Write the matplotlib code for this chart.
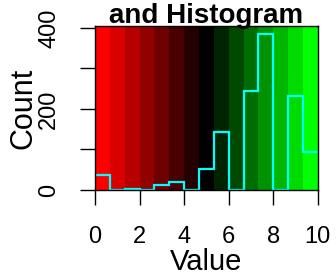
import numpy as np
import matplotlib.pyplot as plt
from matplotlib.colors import LinearSegmentedColormap

plt.rcParams['font.family'] = ['Liberation Sans', 'DejaVu Sans']

# histogram counts over 15 equal bins from 0 to 10
counts = [37, 0, 3, 0, 12, 20, 0, 53, 143, 0, 245, 384, 0, 231, 93]
x_min, x_max = 0, 10
x_ticks = [0, 2, 4, 6, 8, 10]
y_ticks = [0, 100, 200, 300, 400]
y_labels = ['0', '', '200', '', '400']

edges = np.linspace(x_min, x_max, len(counts) + 1)
cmap = LinearSegmentedColormap.from_list('redgreen', ['#ff0000', '#000000', '#00ff00'], N=len(counts))

fig = plt.figure(figsize=(3.36, 2.75), dpi=100)
ax = fig.add_axes([0.283, 0.309, 0.663, 0.596])

top = max(counts) / 0.95
ax.pcolormesh(edges, [0, top], np.arange(len(counts))[None, :], cmap=cmap, shading='flat')
ax.stairs(counts, edges, baseline=None, color='cyan', linewidth=1.6)

ax.set_xlim(x_min, x_max)
ax.set_ylim(0, top)
ax.set_xticks(x_ticks)
ax.set_yticks(y_ticks)
ax.set_yticklabels(y_labels, rotation=90, va='center')
ax.tick_params(direction='out', length=11, width=1, labelsize=17, pad=14)
ax.tick_params(axis='x', pad=15)
for s in ax.spines.values():
    s.set_linewidth(1)

ax.set_xlabel('Value', fontsize=21, labelpad=0)
ax.set_ylabel('Count', fontsize=22, labelpad=0)
fig.text(0.612, 0.916, 'and Histogram', fontsize=20, fontweight='bold',
         ha='center', va='baseline')

fig.savefig('out.png', dpi=100)
